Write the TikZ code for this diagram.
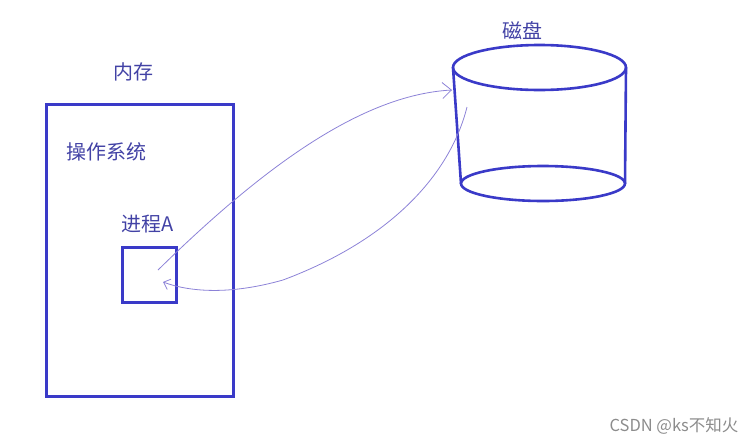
\documentclass[tikz,border=0pt]{standalone}
\usepackage{fontspec}
\setmainfont{Noto Sans CJK SC}
\usetikzlibrary{arrows.meta,shapes.geometric}
\definecolor{penblue}{RGB}{58,58,200}
\definecolor{inkblue}{RGB}{66,66,165}
\definecolor{lilac}{RGB}{140,130,215}
\tikzset{
	box/.style={draw=penblue,line width=3pt,inner sep=0,outer sep=0},
	disc/.style={ellipse,draw=penblue,line width=2.6pt,inner sep=0,outer sep=0},
	tag/.style={text=inkblue,font=\fontsize{20}{20}\selectfont,inner sep=0},
	flow/.style={draw=lilac,line width=.8pt}
}
\begin{document}
\begin{tikzpicture}[x=1pt,y=-1pt]
\useasboundingbox (0,0) rectangle (755,445);
% memory with the process in it
\node[box,minimum width=187pt,minimum height=292pt] (mem) at (140,250) {};
\node[tag] (memlbl) at (133,72) {内存};
\node[tag] (oslbl) at (106,152) {操作系统};
\node[box,minimum width=54pt,minimum height=55pt] (proc) at (149,274.5) {};
\node[tag] (proclbl) at (148,224) {进程A};
% disk
\node[disc,minimum width=173pt,minimum height=45pt] (top) at (539.5,67.5) {};
\node[disc,minimum width=164pt,minimum height=35pt] (bot) at (543,183.5) {};
\draw[penblue,line width=2.6pt] (top.west)--(bot.west);
\draw[penblue,line width=2.6pt] (top.east)--(bot.east);
\node[tag] (disklbl) at (522,31) {磁盘};
% swap out / swap in
\coordinate (outA) at (158,270);
\coordinate (inD) at (452,90);
\coordinate (outD) at (467,107);
\coordinate (inA) at (163,282);
\draw[flow,-{Straight Barb[length=9pt,width=16pt]}]
	(outA) .. controls (260,170) and (360,95) .. (inD);
\draw[flow,-{Straight Barb[length=6pt,width=11pt]}]
	(outD) .. controls (450,175) and (390,240) .. (283,280)
	.. controls (230,295) and (190,292) .. (inA);
\node[text=black!45,font=\fontsize{16.5}{16.5}\selectfont,inner sep=0] (mark) at (674,426) {CSDN @ks不知火};
\end{tikzpicture}
\end{document}
